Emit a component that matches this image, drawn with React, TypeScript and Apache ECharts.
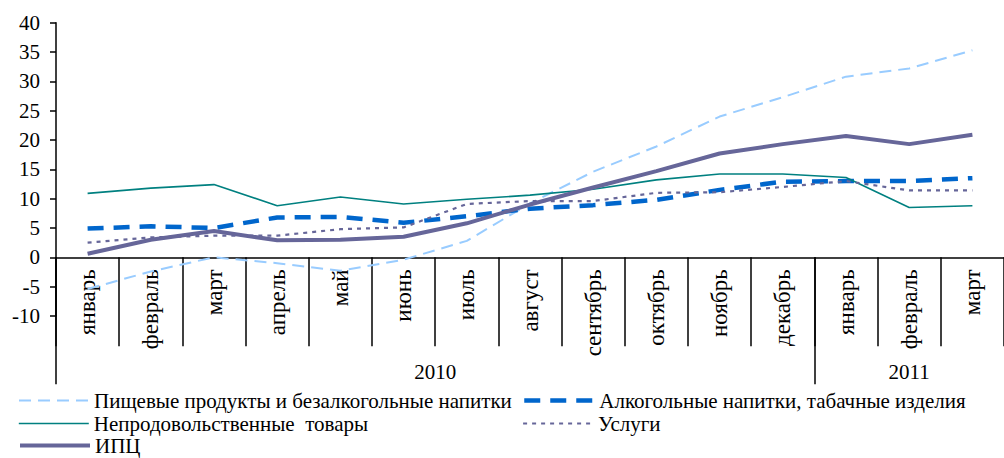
import React, { useEffect, useRef } from "react";
import * as echarts from "echarts";

const months = [
  "январь", "февраль", "март", "апрель", "май", "июнь", "июль", "август",
  "сентябрь", "октябрь", "ноябрь", "декабрь", "январь", "февраль", "март",
];
const years = ["2010", "2011"];
const yearStarts = [0, 12];
const yearLengths = [12, 3];

const seriesNames = [
  "Пищевые продукты и безалкогольные напитки",
  "Алкогольные напитки, табачные изделия",
  "Непродовольственные  товары",
  "Услуги",
  "ИПЦ",
];

const food = [-5.4, -2.4, 0.0, -1.0, -2.3, -0.4, 2.8, 9.2, 14.6, 18.9, 24.0, 27.3, 30.8, 32.2, 35.3];
const alcohol = [4.9, 5.3, 5.0, 6.8, 6.9, 5.9, 7.0, 8.3, 8.9, 9.8, 11.5, 12.9, 13.0, 13.0, 13.5];
const nonFood = [10.9, 11.8, 12.4, 8.8, 10.3, 9.1, 9.9, 10.6, 11.6, 13.2, 14.2, 14.2, 13.6, 8.5, 8.8];
const services = [2.5, 3.4, 3.7, 3.7, 4.8, 5.1, 9.1, 9.6, 9.6, 11.0, 11.1, 12.0, 13.0, 11.4, 11.4];
const cpi = [0.6, 3.0, 4.5, 2.9, 3.0, 3.5, 5.8, 9.0, 11.9, 14.7, 17.7, 19.3, 20.7, 19.3, 20.9];

const yMin = -10;
const yMax = 40;
const yStep = 5;

const FONT = "Liberation Serif";

export default function App() {
  const ref = useRef<HTMLDivElement>(null);

  useEffect(() => {
    if (!ref.current) return;
    const chart = echarts.init(ref.current, null, { renderer: "svg" });

    const gridTop = 22.7;
    const gridHeight = 293.3;
    const zeroOffset = -(gridHeight * (0 - yMin)) / (yMax - yMin);
    const yearCenters = yearStarts.map((s, i) => s + yearLengths[i] / 2);

    const styles = [
      { color: "#99CCFF", width: 2, type: [12, 7] as any },
      { color: "#0066CC", width: 4.5, type: [16, 10] as any },
      { color: "#008080", width: 1.6, type: "solid" as any },
      { color: "#666699", width: 2.2, type: [4, 5] as any },
      { color: "#666699", width: 4, type: "solid" as any },
    ];
    const values = [food, alcohol, nonFood, services, cpi];

    const legendPos = [
      { left: 18, top: 390 },
      { left: 522, top: 390 },
      { left: 18, top: 413 },
      { left: 522, top: 413 },
      { left: 18, top: 435 },
    ];

    chart.setOption({
      animation: false,
      textStyle: { fontFamily: FONT },
      grid: { left: 56, top: gridTop, width: 960, height: gridHeight, containLabel: false },
      legend: seriesNames.map((n, i) => ({
        data: [n],
        left: legendPos[i].left,
        top: legendPos[i].top,
        padding: 0,
        itemWidth: 70,
        itemHeight: 14,
        itemGap: 0,
        selectedMode: false,
        lineStyle: { width: "inherit" },
        itemStyle: { opacity: 0, color: "rgba(0,0,0,0)", borderWidth: 0 },
        textStyle: { fontFamily: FONT, fontSize: 21, color: "#000" },
      })),
      xAxis: [
        {
          type: "category",
          data: months,
          position: "bottom",
          offset: zeroOffset,
          boundaryGap: true,
          axisLine: { show: true, onZero: false, lineStyle: { color: "#000", width: 1.5 } },
          axisTick: { show: true, interval: 0, length: 89, lineStyle: { color: "#000", width: 1.5 } },
          axisLabel: {
            interval: 0,
            rotate: 90,
            margin: 12,
            fontFamily: FONT,
            fontSize: 23,
            color: "#000",
          },
          splitLine: { show: false },
        },
        {
          type: "value",
          min: 0,
          max: months.length,
          position: "bottom",
          offset: zeroOffset,
          axisLine: { show: false, onZero: false },
          axisTick: {
            show: true,
            customValues: yearStarts,
            length: 127,
            lineStyle: { color: "#000", width: 1.5 },
          },
          axisLabel: {
            customValues: yearCenters,
            formatter: (v: number) => years[yearCenters.indexOf(v)] ?? "",
            margin: 104,
            fontFamily: FONT,
            fontSize: 21,
            color: "#000",
          },
          splitLine: { show: false },
        },
      ],
      yAxis: {
        type: "value",
        min: yMin,
        max: yMax,
        interval: yStep,
        axisLine: { show: true, onZero: false, lineStyle: { color: "#000", width: 1.5 } },
        axisTick: { show: true, length: 6, lineStyle: { color: "#000", width: 1.5 } },
        axisLabel: { margin: 16, fontFamily: FONT, fontSize: 21, color: "#000" },
        splitLine: { show: false },
      },
      series: seriesNames.map((n, i) => ({
        name: n,
        type: "line",
        xAxisIndex: 0,
        data: values[i],
        symbol: "none",
        showSymbol: false,
        lineStyle: styles[i],
        itemStyle: { color: styles[i].color },
        z: 2 + i,
      })),
    });

    return () => chart.dispose();
  }, []);

  return (
    <div
      ref={ref}
      style={{ position: "absolute", left: 0, top: 0, width: 1004, height: 458, background: "#fff" }}
    />
  );
}
